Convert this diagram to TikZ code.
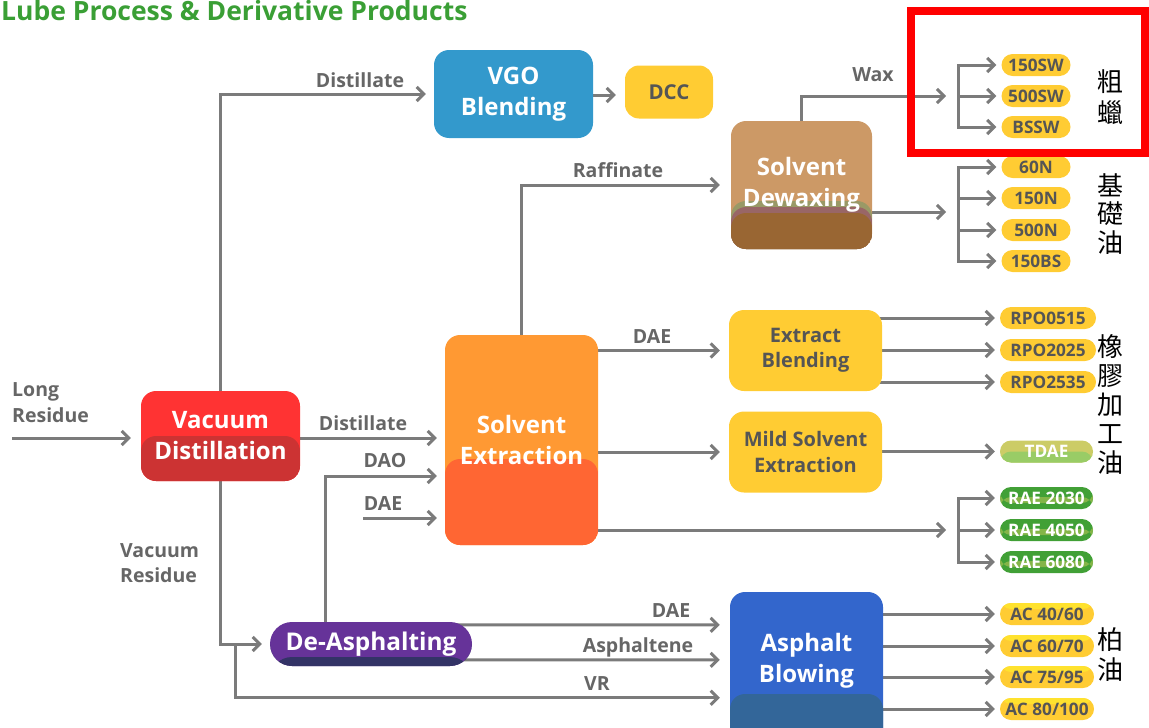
\documentclass[tikz,border=0pt]{standalone}
\usepackage{fontspec}
\setmainfont{Open Sans}
\newfontfamily\cjkf{Noto Sans CJK TC}
\usetikzlibrary{arrows.meta,calc}
\pgfdeclarelayer{bg}
\pgfsetlayers{bg,main}
\definecolor{cline}{HTML}{7B7B7B}
\definecolor{ctext}{HTML}{666666}
\definecolor{cdark}{HTML}{555555}
\definecolor{ctitle}{HTML}{3A9F35}
\definecolor{cvgo}{HTML}{3399CC}
\definecolor{cyel}{HTML}{FFCC33}
\definecolor{cyelt}{HTML}{FFE22E}
\definecolor{ctan}{HTML}{CC9966}
\definecolor{cbrown}{HTML}{996633}
\definecolor{colive}{HTML}{999966}
\definecolor{cmauve}{HTML}{996666}
\definecolor{cred}{HTML}{FF3333}
\definecolor{cdred}{HTML}{CC3333}
\definecolor{corg}{HTML}{FF9933}
\definecolor{cdorg}{HTML}{FF6633}
\definecolor{cblue}{HTML}{3366CC}
\definecolor{cdblue}{HTML}{336699}
\definecolor{cpurp}{HTML}{663399}
\definecolor{cnavy}{HTML}{333366}
\definecolor{cgreen}{HTML}{41A036}
\definecolor{clgreen}{HTML}{84B548}
\definecolor{ctdaet}{HTML}{CCCC66}
\definecolor{ctdaeb}{HTML}{99CC66}
\definecolor{cframe}{HTML}{FF0000}
\newcommand\lblf{\fontsize{19.5}{23}\selectfont\bfseries}
\newcommand\bigf{\fontsize{24}{31}\selectfont\bfseries}
\newcommand\midf{\fontsize{20}{25.5}\selectfont\bfseries}
\newcommand\pillf{\fontsize{17.2}{19}\selectfont\bfseries}
\begin{document}
\begin{tikzpicture}[x=1pt,y=-1pt,
  box/.style={rounded corners=15pt, inner sep=0pt, align=center},
  lower/.style 2 args={path picture={\fill[#1] (path picture bounding box.south west) rectangle ([yshift=#2]path picture bounding box.south east);}},
  dewax/.style={path picture={
     \fill[colive] (path picture bounding box.south west) rectangle ([yshift=48pt]path picture bounding box.south east);
     \fill[cmauve] (path picture bounding box.south west) rectangle ([yshift=42pt]path picture bounding box.south east);
     \fill[cbrown] (path picture bounding box.south west) rectangle ([yshift=36pt]path picture bounding box.south east);}},
  pill/.style={rounded corners=11pt, minimum width=#1, minimum height=22pt, inner sep=0pt, font=\pillf},
  ypill/.style={pill=#1, fill=cyel, text=cdark},
  acpill/.style={pill=#1, fill=cyel, text=cdark, path picture={\fill[cyelt] (path picture bounding box.north west) rectangle ([yshift=-6pt]path picture bounding box.north east);}},
  gpill/.style={pill=#1, fill=cgreen, text=white, path picture={\fill[clgreen] ([yshift=1pt]path picture bounding box.west) rectangle ([yshift=-5pt]path picture bounding box.east);}},
  conn/.style={draw=cline, line width=3pt},
  arr/.style={conn, -{Straight Barb[length=7pt,width=14pt]}},
  lbl/.style={text=ctext, font=\lblf, inner sep=0pt, anchor=base},
  cjk/.style={inner sep=0pt, align=center, text=black}]
\useasboundingbox (0,0) rectangle (1149,728);

% title
\node[anchor=base west, text=ctitle, font=\fontsize{26.5}{30}\selectfont\bfseries, inner sep=0pt] (title) at (1,20) {Lube Process \& Derivative Products};

% process boxes
\node[box, fill=cvgo, minimum width=159pt, minimum height=88pt, text=white, font=\bigf] (vgo) at (513.5,94) {VGO\\Blending};
\node[box, rounded corners=14pt, fill=cyel, minimum width=88pt, minimum height=53pt, text=cdark, font=\fontsize{20.5}{24}\selectfont\bfseries] (dcc) at (669,92) {DCC};
\node[box, fill=ctan, dewax, minimum width=141pt, minimum height=128pt, text=white, font=\bigf] (dw) at (801.5,185) {Solvent\\Dewaxing};
\node[box, fill=cred, lower={cdred}{45pt}, minimum width=159pt, minimum height=90pt, text=white, font=\bigf] (vd) at (220.5,436) {Vacuum\\Distillation};
\node[box, fill=corg, lower={cdorg}{86pt}, minimum width=153pt, minimum height=210pt, text=white, font=\bigf] (se) at (521.5,440) {Solvent\\Extraction};
\node[box, fill=cyel, minimum width=153pt, minimum height=81pt, text=cdark, font=\midf] (eb) at (805.5,350.5) {Extract\\Blending};
\node[box, fill=cyel, minimum width=153pt, minimum height=81pt, text=cdark, font=\midf] (mse) at (805.5,452) {Mild Solvent\\Extraction};
\node[box, fill=cblue, lower={cdblue}{58pt}, minimum width=153pt, minimum height=160pt,
      label={[yshift=11pt, text=white, font=\bigf, align=center]center:Asphalt\\Blowing}] (ab) at (806.5,672) {};
\node[box, rounded corners=22pt, fill=cpurp, lower={cnavy}{9pt}, minimum width=202pt, minimum height=44pt, text=white, font=\fontsize{24.4}{28}\selectfont\bfseries] (da) at (371,644) {De-Asphalting};

% product pills
\node[ypill=69pt] (sw1) at (1036,65) {150SW};
\node[ypill=69pt] (sw2) at (1036,96) {500SW};
\node[ypill=69pt] (sw3) at (1036,127) {BSSW};
\node[ypill=69pt] (n1) at (1036,167) {60N};
\node[ypill=69pt] (n2) at (1036,198) {150N};
\node[ypill=69pt] (n3) at (1036,230) {500N};
\node[ypill=69pt] (n4) at (1036,261) {150BS};
\node[ypill=96pt] (rpo1) at (1048,318) {RPO0515};
\node[ypill=96pt] (rpo2) at (1048,350) {RPO2025};
\node[ypill=96pt] (rpo3) at (1048,382) {RPO2535};
\node[pill=93pt, fill=ctdaet, lower={ctdaeb}{11pt}, text=white] (tdae) at (1046.5,451.5) {TDAE};
\node[gpill=93pt] (rae1) at (1046.5,498) {RAE 2030};
\node[gpill=93pt] (rae2) at (1046.5,530) {RAE 4050};
\node[gpill=93pt] (rae3) at (1046.5,562) {RAE 6080};
\node[acpill=94pt] (ac1) at (1047,614) {AC 40/60};
\node[acpill=94pt] (ac2) at (1047,646) {AC 60/70};
\node[acpill=94pt] (ac3) at (1047,677) {AC 75/95};
\node[acpill=94pt] (ac4) at (1047,709) {AC 80/100};

% chinese group labels
\node[cjk, font=\cjkf\fontsize{26}{31}\selectfont] (c1) at (1110,97.5) {粗\\蠟};
\node[cjk, font=\cjkf\fontsize{26}{28.5}\selectfont] (c2) at (1110,214) {基\\礎\\油};
\node[cjk, font=\cjkf\fontsize{26}{29}\selectfont] (c3) at (1110,405) {橡\\膠\\加\\工\\油};
\node[cjk, font=\cjkf\fontsize{26}{30}\selectfont] (c4) at (1110,655) {柏\\油};

% stream labels
\node[lbl] (t1) at (360,87) {Distillate};
\node[lbl] (t2) at (363,430) {Distillate};
\node[lbl] (t3) at (385,467) {DAO};
\node[lbl] (t4) at (383,510) {DAE};
\node[lbl] (t5) at (618,177) {Raffinate};
\node[lbl] (t6) at (652,343) {DAE};
\node[lbl] (t7) at (873,81) {Wax};
\node[lbl] (t8) at (671,617) {DAE};
\node[lbl] (t9) at (638,652) {Asphaltene};
\node[lbl] (t10) at (597,690) {VR};
\node[lbl, anchor=base west] (t11) at (12,396) {Long};
\node[lbl, anchor=base west] (t12) at (12,422) {Residue};
\node[lbl, anchor=base west] (t13) at (120,557) {Vacuum};
\node[lbl, anchor=base west] (t14) at (120,582) {Residue};

% free ends and junctions
\coordinate (lr) at (12,438);
\coordinate (daeL) at (363,518);
\coordinate (raej) at (958,530);
\coordinate (waxj) at (958,96);
\coordinate (boj) at (958,212);

\begin{pgfonlayer}{bg}
\draw[arr, shorten >=10pt] (lr) -- (lr -| vd.west);
\draw[arr, shorten >=8pt] (vd.center) |- (vgo.west);
\draw[arr, shorten >=8pt] (vd.center |- lr) -- (lr -| se.west);
\draw[arr, shorten >=8pt] (vd.center) |- (da.west);
\draw[arr, shorten >=10pt] ($(vd.center |- da.west)+(15,0)$) |- ($(ab.north west)+(0,106)$);
\draw[arr, shorten >=8pt] ($(da.north west)+(56,0)$) |- ($(se.west)+(0,36)$);
\draw[arr, shorten >=8pt] (daeL) -- (daeL -| se.west);
\draw[arr, shorten >=11pt] (se.center) |- (dw.west);
\draw[arr, shorten >=9pt] (se.center |- eb.west) -- (eb.west);
\draw[arr, shorten >=9pt] (se.center |- mse.west) -- (mse.west);
\draw[arr, shorten >=12pt] (se.center |- raej) -- (raej);
\draw[conn, line cap=rect] (raej |- rae1.west) -- (raej |- rae3.west);
\foreach \n in {rae1,rae2,rae3} \draw[arr, shorten >=5pt] (raej |- \n.west) -- (\n.west);
\draw[arr, shorten >=9pt] ($(vgo.center)+(0,1)$) -- ($(dcc.west |- vgo.center)+(0,1)$);
\draw[arr, shorten >=12pt] (dw.center) |- (waxj);
\draw[conn, line cap=rect] (waxj |- sw1.west) -- (waxj |- sw3.west);
\foreach \n in {sw1,sw2,sw3} \draw[arr, shorten >=5pt] (waxj |- \n.west) -- (\n.west);
\draw[arr, shorten >=12pt] (dw.center |- boj) -- (boj);
\draw[conn, line cap=rect] (boj |- n1.west) -- (boj |- n4.west);
\foreach \n in {n1,n2,n3,n4} \draw[arr, shorten >=5pt] (boj |- \n.west) -- (\n.west);
\foreach \n in {rpo1,rpo2,rpo3} \draw[arr, shorten >=5pt] (eb.center |- \n.west) -- (\n.west);
\draw[arr, shorten >=5pt] (mse.center |- tdae.west) -- (tdae.west);
\foreach \n in {ac1,ac2,ac3,ac4} \draw[arr, shorten >=5pt] (ab.center |- \n.west) -- (\n.west);
\draw[arr, shorten >=10pt] ($(da.center)+(0,-19)$) -- ($(ab.north west)+(0,33)$);
\draw[arr, shorten >=10pt] ($(da.center)+(0,16)$) -- ($(ab.north west)+(0,68)$);
\end{pgfonlayer}

% highlight frame
\draw[cframe, line width=8pt] (910.5,11) rectangle (1144.5,153);
\end{tikzpicture}
\end{document}
